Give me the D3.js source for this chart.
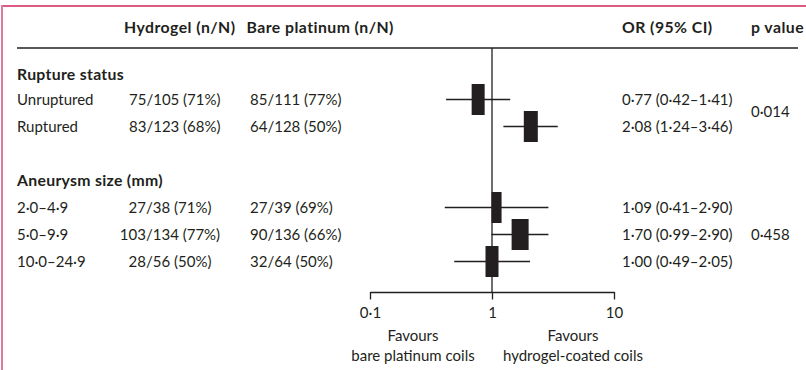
<!DOCTYPE html>
<html>
<head>
<meta charset="utf-8">
<script src="https://cdn.jsdelivr.net/npm/d3@7"></script>
<style>
  html, body { margin: 0; padding: 0; background: #fff; }
  svg text { font-family: Lato, "Open Sans", sans-serif; fill: #231f20; }
</style>
</head>
<body>
<svg id="chart" width="806" height="370"></svg>
<script>
// ---- data ----
const columnHeaders = ["Hydrogel (n/N)", "Bare platinum (n/N)", "OR (95% CI)", "p value"];
const groups = ["Rupture status", "Aneurysm size (mm)"];
const subgroups = ["Unruptured", "Ruptured", "2·0–4·9", "5·0–9·9", "10·0–24·9"];
const subgroupGroup = [0, 0, 1, 1, 1];
const hydrogel = ["75/105 (71%)", "83/123 (68%)", "27/38 (71%)", "103/134 (77%)", "28/56 (50%)"];
const barePlatinum = ["85/111 (77%)", "64/128 (50%)", "27/39 (69%)", "90/136 (66%)", "32/64 (50%)"];
const oddsRatio = [0.77, 2.08, 1.09, 1.70, 1.00];
const ciLower = [0.42, 1.24, 0.41, 0.99, 0.49];
const ciUpper = [1.41, 3.46, 2.90, 2.90, 2.05];
const weight = [13, 14, 10, 17, 13];
const pValues = ["0·014", "0·458"];
const tickValues = [0.1, 1, 10];
const tickLabels = ["0·1", "1", "10"];
const favoursLeft = ["Favours", "bare platinum coils"];
const favoursRight = ["Favours", "hydrogel-coated coils"];

// ---- layout ----
const svg = d3.select("#chart");
const fs = 15;
const fsHead = 15.8;
const fmt = v => d3.format(".2f")(v).replace(".", "·");

// frame
svg.append("line").attr("x1", 2).attr("x2", 806).attr("y1", 6).attr("y2", 6)
  .attr("stroke", "#d2245a").attr("stroke-width", 1.6);
svg.append("line").attr("x1", 2).attr("x2", 2).attr("y1", 5).attr("y2", 370)
  .attr("stroke", "#e07a9c").attr("stroke-width", 2);

// row scale
const groupSlots = [0.1, 4];
const rowSlots = [1, 2, 5, 6, 7];
const y = d3.scaleLinear().domain([0, 7]).range([72.5, 261.5]);
const x = d3.scaleLog().domain([0.1, 10]).range([370, 614]);
const w = d3.scaleLinear().domain([0, 17]).range([0, 17]);
const base = 5.2;

// header
const headerX = [124, 246.5, 622, 751];
svg.selectAll("text.hdr").data(columnHeaders).join("text")
  .attr("class", "hdr")
  .attr("x", (d, i) => headerX[i]).attr("y", 33)
  .attr("font-size", fsHead).attr("font-weight", "bold")
  .attr("letter-spacing", 0.45)
  .text(d => d);
svg.append("line").attr("x1", 17).attr("x2", 798).attr("y1", 48).attr("y2", 48)
  .attr("stroke", "#231f20").attr("stroke-width", 1.3);

// group labels
svg.selectAll("text.grp").data(groups).join("text")
  .attr("class", "grp")
  .attr("x", 17).attr("y", (d, i) => y(groupSlots[i]) + base)
  .attr("font-size", fsHead).attr("font-weight", "bold")
  .attr("letter-spacing", 0.3)
  .text(d => d);

// subgroup labels
svg.selectAll("text.sub").data(subgroups).join("text")
  .attr("class", "sub")
  .attr("x", 17).attr("y", (d, i) => y(rowSlots[i]) + base)
  .attr("font-size", fs).text(d => d);

// hydrogel column
svg.selectAll("text.hyd").data(hydrogel).join("text")
  .attr("class", "hyd")
  .attr("x", (d, i) => subgroupGroup[i] === 0 ? 129 : 170)
  .attr("text-anchor", (d, i) => subgroupGroup[i] === 0 ? "start" : "middle")
  .attr("y", (d, i) => y(rowSlots[i]) + base)
  .attr("font-size", fs).text(d => d);

// bare platinum column
svg.selectAll("text.bare").data(barePlatinum).join("text")
  .attr("class", "bare")
  .attr("x", 250)
  .attr("y", (d, i) => y(rowSlots[i]) + base)
  .attr("font-size", fs).text(d => d);

// OR column
svg.selectAll("text.or").data(oddsRatio).join("text")
  .attr("class", "or")
  .attr("x", 622)
  .attr("y", (d, i) => y(rowSlots[i]) + base)
  .attr("font-size", fs)
  .text((d, i) => `${fmt(d)} (${fmt(ciLower[i])}–${fmt(ciUpper[i])})`);

// p values
const pSlots = [1.45, 6];
svg.selectAll("text.p").data(pValues).join("text")
  .attr("class", "p")
  .attr("x", 751)
  .attr("y", (d, i) => y(pSlots[i]) + base)
  .attr("font-size", fs).text(d => d);

// reference line
svg.append("line").attr("x1", x(1)).attr("x2", x(1)).attr("y1", 48).attr("y2", 292)
  .attr("stroke", "#231f20").attr("stroke-width", 1.3);

// CI lines
svg.selectAll("line.ci").data(oddsRatio).join("line")
  .attr("class", "ci")
  .attr("x1", (d, i) => x(ciLower[i])).attr("x2", (d, i) => x(ciUpper[i]))
  .attr("y1", (d, i) => y(rowSlots[i])).attr("y2", (d, i) => y(rowSlots[i]))
  .attr("stroke", "#231f20").attr("stroke-width", 1.3);

// boxes
const boxH = 31;
svg.selectAll("rect.box").data(oddsRatio).join("rect")
  .attr("class", "box")
  .attr("x", (d, i) => x(d) - w(weight[i]) / 2)
  .attr("width", (d, i) => w(weight[i]))
  .attr("y", (d, i) => y(rowSlots[i]) - boxH / 2)
  .attr("height", boxH)
  .attr("fill", "#231f20");

// axis
const axis = d3.axisBottom(x).tickValues(tickValues)
  .tickFormat((d, i) => tickLabels[i]).tickSize(7.5).tickSizeOuter(0).tickPadding(8);
const ax = svg.append("g").attr("transform", "translate(0,292)").call(axis);
ax.select(".domain").attr("stroke", "#231f20").attr("stroke-width", 1.3);
ax.selectAll(".tick line").attr("stroke", "#231f20").attr("stroke-width", 1.3);
ax.selectAll(".tick text").attr("font-size", fs).attr("font-family", "Lato, sans-serif").attr("fill", "#231f20");

// favours labels
[favoursLeft, favoursRight].forEach((lines, k) => {
  const cx = k === 0 ? 413 : 573;
  svg.selectAll(null).data(lines).join("text")
    .attr("x", cx).attr("y", (d, i) => 341 + i * 20)
    .attr("text-anchor", "middle").attr("font-size", fs).text(d => d);
});
</script>
</body>
</html>
